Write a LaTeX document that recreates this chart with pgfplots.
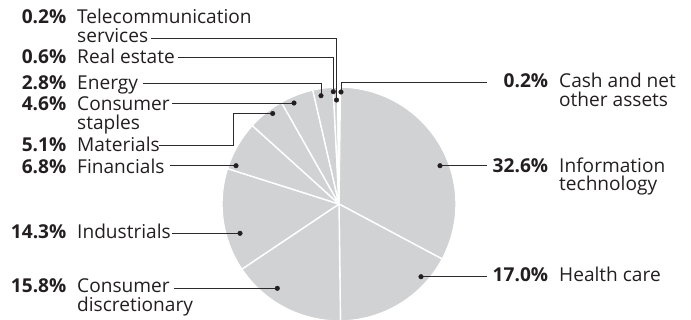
\documentclass[border=0pt]{standalone}
\usepackage{pgfplots}
\pgfplotsset{compat=1.18}
\usepackage{fontspec}
\setmainfont{Open Sans}
\definecolor{piegray}{RGB}{209,210,212}
\definecolor{ink}{RGB}{35,31,32}
\definecolor{leadcol}{RGB}{45,42,43}
\newcommand{\lf}{\fontsize{19.1bp}{20bp}\selectfont}
\tikzset{
  pct/.style={font=\lf\bfseries,text=ink,anchor=base east,inner sep=0pt},
  nm/.style={font=\lf,text=ink,anchor=base west,inner sep=0pt}}
\begin{document}
\begin{tikzpicture}
\useasboundingbox (0,0) rectangle (691bp,320bp);
\begin{axis}[at={(0,0)},anchor=south west,width=691bp,height=320bp,scale only axis,
  xmin=0,xmax=691,ymin=0,ymax=320,y dir=reverse,hide axis,clip=false,
  pie/.style={fill=piegray,draw=white,line width=1.4bp,line join=round,samples=90,variable=\t},
  leader/.style={color=leadcol,line width=0.9bp,mark=none}]
% pie slices: start and end in cumulative percent, clockwise from top
% Cash 0.2, IT 32.6, Health 17.0, Cons disc 15.8, Industrials 14.3, Financials 6.8,
% Materials 5.1, Cons staples 4.6, Energy 2.8, Real estate 0.6, Telecom 0.2
\addplot[pie,domain=0:0.2]   ({339+117*sin(3.6*\t)},{204-117*cos(3.6*\t)}) -- (axis cs:339,204) -- cycle;
\addplot[pie,domain=0.2:32.8]  ({339+117*sin(3.6*\t)},{204-117*cos(3.6*\t)}) -- (axis cs:339,204) -- cycle;
\addplot[pie,domain=32.8:49.8] ({339+117*sin(3.6*\t)},{204-117*cos(3.6*\t)}) -- (axis cs:339,204) -- cycle;
\addplot[pie,domain=49.8:65.6] ({339+117*sin(3.6*\t)},{204-117*cos(3.6*\t)}) -- (axis cs:339,204) -- cycle;
\addplot[pie,domain=65.6:79.9] ({339+117*sin(3.6*\t)},{204-117*cos(3.6*\t)}) -- (axis cs:339,204) -- cycle;
\addplot[pie,domain=79.9:86.7] ({339+117*sin(3.6*\t)},{204-117*cos(3.6*\t)}) -- (axis cs:339,204) -- cycle;
\addplot[pie,domain=86.7:91.8] ({339+117*sin(3.6*\t)},{204-117*cos(3.6*\t)}) -- (axis cs:339,204) -- cycle;
\addplot[pie,domain=91.8:96.4] ({339+117*sin(3.6*\t)},{204-117*cos(3.6*\t)}) -- (axis cs:339,204) -- cycle;
\addplot[pie,domain=96.4:99.2] ({339+117*sin(3.6*\t)},{204-117*cos(3.6*\t)}) -- (axis cs:339,204) -- cycle;
\addplot[pie,domain=99.2:99.8] ({339+117*sin(3.6*\t)},{204-117*cos(3.6*\t)}) -- (axis cs:339,204) -- cycle;
\addplot[pie,domain=99.8:100]  ({339+117*sin(3.6*\t)},{204-117*cos(3.6*\t)}) -- (axis cs:339,204) -- cycle;
% leader lines
\addplot[leader] coordinates {(151,38) (336.5,38) (336.5,100)};
\addplot[leader] coordinates {(178,57) (333.3,57) (333.3,91.7)};
\addplot[leader] coordinates {(143,83.5) (321,83.5) (321,95.7)};
\addplot[leader] coordinates {(487,82) (341,82) (341,92)};
\addplot[leader] coordinates {(172,103) (294,103)};
\addplot[leader] coordinates {(159,145) (233.3,145) (233.3,113.5) (272.7,113.5)};
\addplot[leader] coordinates {(170,165.7) (236,165.7)};
\addplot[leader] coordinates {(172,233.3) (240,233.3)};
\addplot[leader] coordinates {(174.3,288.3) (277.3,288.3)};
\addplot[leader] coordinates {(440,165.7) (487,165.7)};
\addplot[leader] coordinates {(421,276.7) (487,276.7)};
% dots
\addplot[only marks,mark=*,mark size=2.3bp,color=ink] coordinates {
 (336.5,100) (333.3,91.7) (321,95.7) (341,92) (294,103) (272.7,113.5)
 (236,165.7) (240,233.3) (277.3,288.3) (440,165.7) (421,276.7)};
% left labels
\node[pct] at (axis cs:66.5,23) {0.2\%};   \node[nm] at (axis cs:77,23) {Telecommunication};
\node[nm] at (axis cs:77,42.5) {services};
\node[pct] at (axis cs:66.5,63.3) {0.6\%};  \node[nm] at (axis cs:77,63.3) {Real estate};
\node[pct] at (axis cs:66.5,89) {2.8\%};    \node[nm] at (axis cs:77,89) {Energy};
\node[pct] at (axis cs:66.5,110) {4.6\%};   \node[nm] at (axis cs:77,110) {Consumer};
\node[nm] at (axis cs:77,129.5) {staples};
\node[pct] at (axis cs:66.5,151.7) {5.1\%}; \node[nm] at (axis cs:77,151.7) {Materials};
\node[pct] at (axis cs:66.5,173.3) {6.8\%}; \node[nm] at (axis cs:77,173.3) {Financials};
\node[pct] at (axis cs:66.5,238.3) {14.3\%};\node[nm] at (axis cs:77,238.3) {Industrials};
\node[pct] at (axis cs:66.5,292.7) {15.8\%};\node[nm] at (axis cs:77,292.7) {Consumer};
\node[nm] at (axis cs:77,311.7) {discretionary};
% right labels
\node[pct] at (axis cs:548.3,87.7) {0.2\%};  \node[nm] at (axis cs:559,87.7) {Cash and net};
\node[nm] at (axis cs:559,106.7) {other assets};
\node[pct] at (axis cs:548.3,172.7) {32.6\%};\node[nm] at (axis cs:559,172.7) {Information};
\node[nm] at (axis cs:559,190.7) {technology};
\node[pct] at (axis cs:548.3,281.7) {17.0\%};\node[nm] at (axis cs:559,281.7) {Health care};
\end{axis}
\end{tikzpicture}
\end{document}
